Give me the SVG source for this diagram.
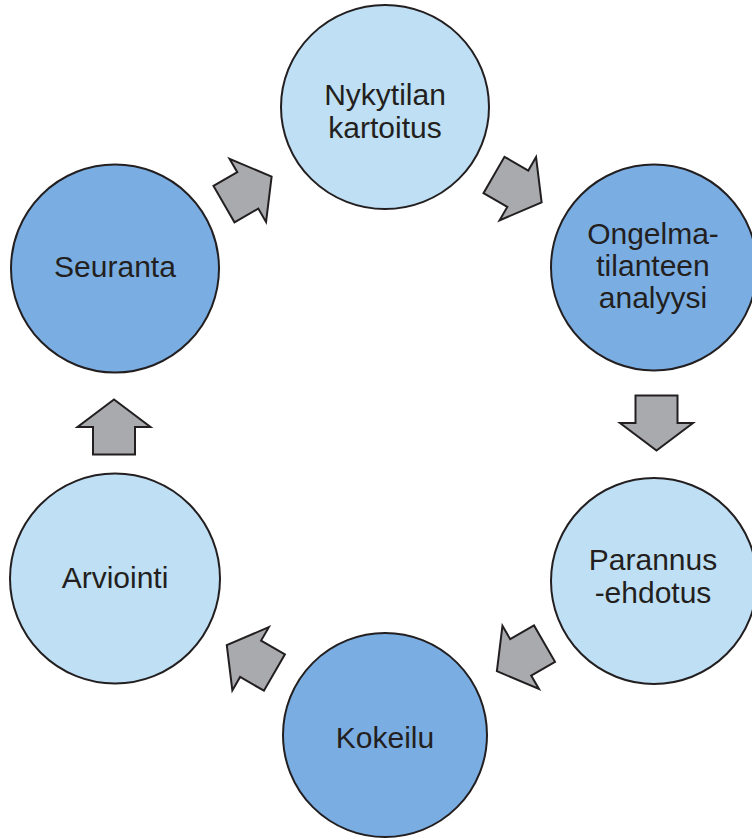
<svg xmlns="http://www.w3.org/2000/svg" xmlns:xlink="http://www.w3.org/1999/xlink" width="752" height="838" viewBox="0 0 752 838">
  <style>
    .light { fill: #bfdff4; stroke: #231f20; stroke-width: 2; }
    .dark { fill: #7aaee3; stroke: #231f20; stroke-width: 2; }
    .label { font-family: "Liberation Sans", Arial, sans-serif; font-size: 30px; fill: #231f20; text-anchor: middle; }
    .arrow { fill: #a9aaae; stroke: #231f20; stroke-width: 2; stroke-linejoin: miter; }
  </style>
  <defs>
    <!-- block arrow pointing right, centred on the head base -->
    <polygon id="blockArrow" class="arrow" points="-27.5,-21 0,-21 0,-36.5 27.5,0 0,36.5 0,21 -27.5,21"/>
  </defs>
  <rect width="752" height="838" fill="#ffffff"/>

  <g id="connectors">
    <use xlink:href="#blockArrow" transform="translate(247.8,190.4) rotate(-30)"/>
    <use xlink:href="#blockArrow" transform="translate(517.8,188.7) rotate(30)"/>
    <use xlink:href="#blockArrow" transform="translate(656.5,423) rotate(90)"/>
    <use xlink:href="#blockArrow" transform="translate(520.7,657.4) rotate(150)"/>
    <use xlink:href="#blockArrow" transform="translate(250.6,658.8) rotate(-150)"/>
    <use xlink:href="#blockArrow" transform="translate(114,427) rotate(-90)"/>
  </g>

  <g id="nykytilan-kartoitus">
    <ellipse class="light" cx="385" cy="107" rx="104" ry="102"/>
    <text class="label" x="385" y="105"><tspan x="385">Nykytilan</tspan><tspan x="385" dy="33">kartoitus</tspan></text>
  </g>

  <g id="ongelmatilanteen-analyysi">
    <circle class="dark" cx="654" cy="267.5" r="103"/>
    <text class="label" x="653" y="244"><tspan x="653">Ongelma-</tspan><tspan x="653" dy="32">tilanteen</tspan><tspan x="653" dy="32">analyysi</tspan></text>
  </g>

  <g id="parannusehdotus">
    <circle class="light" cx="654" cy="581" r="103"/>
    <text class="label" x="653" y="570"><tspan x="653">Parannus</tspan><tspan x="653" dy="33">-ehdotus</tspan></text>
  </g>

  <g id="kokeilu">
    <circle class="dark" cx="385" cy="735" r="102"/>
    <text class="label" x="385" y="748">Kokeilu</text>
  </g>

  <g id="arviointi">
    <circle class="light" cx="115" cy="578.5" r="105"/>
    <text class="label" x="115" y="588">Arviointi</text>
  </g>

  <g id="seuranta">
    <circle class="dark" cx="115" cy="268.5" r="104"/>
    <text class="label" x="115" y="277">Seuranta</text>
  </g>
</svg>
